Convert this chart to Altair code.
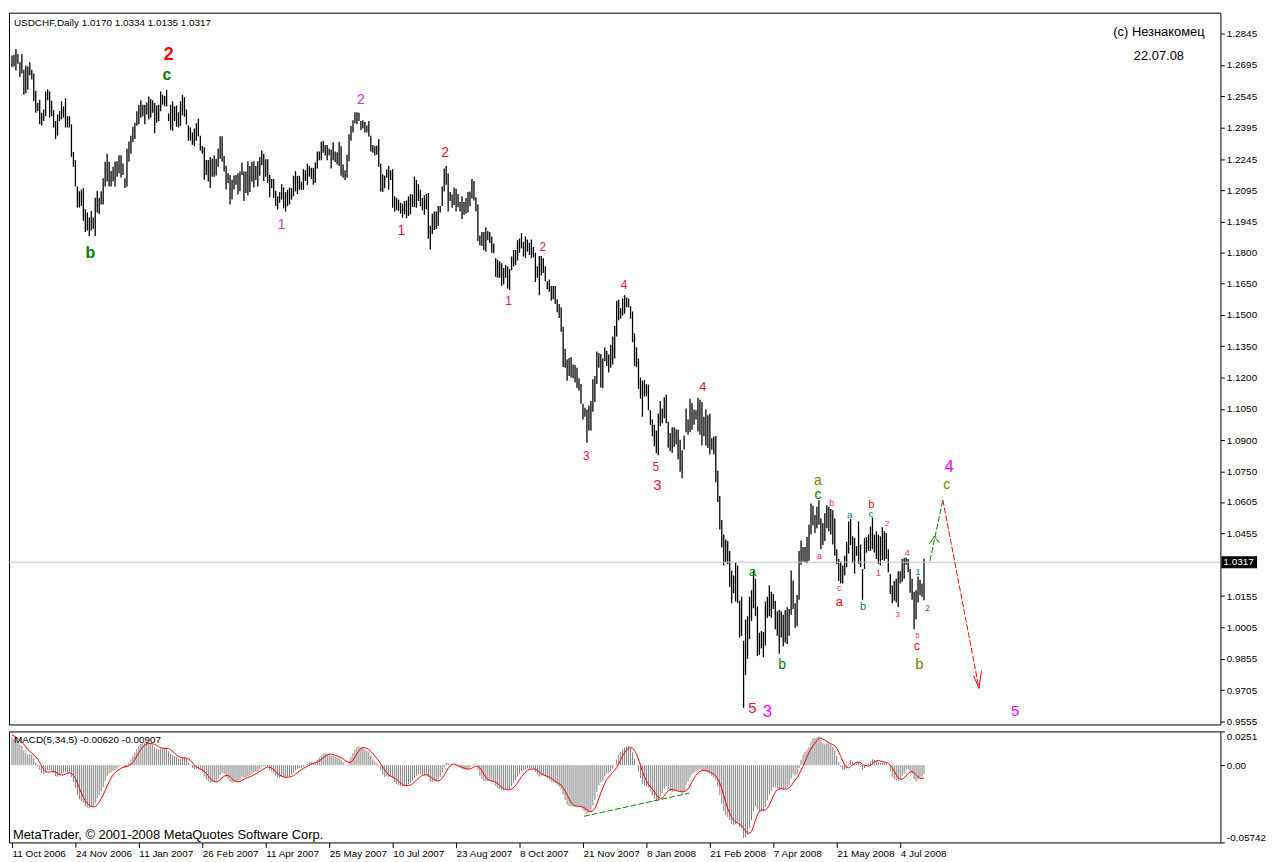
import altair as alt
import pandas as pd

# ---------------- data (prices in pips, 1/10000) ----------------
high_pips = [
12740,12744,12771,12747,12708,12747,12672,12693,12688,12708,
12672,12654,12572,12513,12529,12466,12482,12568,12579,12568,
12524,12479,12427,12458,12474,12521,12497,12536,12450,12450,
12411,12279,12240,12114,12091,12099,12107,12005,11989,11966,
11997,11966,12060,12094,12060,12091,12153,12232,12271,12232,
12188,12208,12232,12235,12263,12263,12224,12153,12294,12329,
12357,12400,12419,12474,12505,12526,12505,12505,12516,12544,
12532,12526,12513,12501,12505,12568,12552,12547,12576,12463,
12505,12521,12497,12501,12469,12521,12552,12541,12482,12407,
12396,12372,12391,12416,12438,12357,12307,12302,12240,12240,
12255,12247,12263,12247,12294,12354,12354,12260,12213,12177,
12169,12146,12166,12169,12177,12185,12229,12185,12185,12234,
12212,12231,12234,12212,12234,12255,12286,12270,12244,12244,
12169,12150,12150,12094,12067,12087,12125,12109,12087,12098,
12109,12106,12165,12187,12165,12165,12137,12197,12192,12223,
12212,12203,12203,12228,12281,12281,12328,12333,12312,12312,
12294,12291,12325,12281,12278,12328,12306,12219,12192,12266,
12364,12403,12431,12469,12469,12466,12427,12431,12422,12406,
12427,12356,12312,12306,12309,12341,12223,12172,12165,12195,
12212,12192,12197,12067,12059,12051,12036,12031,12044,12047,
12067,12078,12075,12161,12145,12125,12098,12059,12072,12078,
12083,11926,11984,11994,11994,12020,12020,12114,12200,12212,
12176,12087,12075,12109,12103,12078,12040,12067,12040,12059,
12087,12090,12150,12140,12062,12028,11880,11896,11896,11919,
11900,11896,11875,11841,11771,11763,11755,11747,11724,11739,
11732,11719,11779,11810,11810,11857,11865,11891,11849,11875,
11860,11844,11860,11825,11797,11732,11782,11782,11771,11732,
11661,11669,11638,11638,11638,11575,11552,11536,11443,11338,
11286,11294,11297,11263,11260,11247,11197,11169,11075,11056,
11047,11067,11088,11192,11208,11325,11317,11313,11291,11344,
11328,11310,11357,11396,11447,11568,11572,11532,11578,11594,
11583,11578,11541,11516,11411,11344,11291,11200,11185,11188,
11169,11166,11044,11000,10974,10947,11028,11088,11052,11106,
11119,10989,10935,10963,10963,10953,10950,10903,10853,10922,
11052,11000,11099,11078,11047,11044,11103,11094,11083,11013,
11047,11020,11027,10910,10918,10921,10754,10634,10519,10449,
10426,10418,10371,10277,10254,10316,10301,10133,10152,9941,
10043,10059,10152,10183,10277,10238,10105,9980,9988,9983,
10129,10152,10207,10176,10165,10133,10082,10090,10082,10066,
10087,10102,10093,10277,10230,10121,10160,10371,10421,10390,
10390,10437,10496,10598,10587,10543,10582,10613,10527,10504,
10551,10590,10582,10571,10566,10527,10379,10332,10321,10301,
10348,10415,10512,10524,10441,10433,10394,10512,10402,10285,
10433,10437,10449,10488,10530,10449,10465,10449,10441,10484,
10465,10457,10379,10262,10207,10227,10238,10274,10274,10332,
10337,10340,10332,10285,10238,10176,10183,10249,10233,10215,
10334]

low_pips = [
12685,12688,12669,12701,12638,12654,12552,12560,12576,12646,
12626,12521,12466,12474,12411,12404,12427,12450,12526,12443,
12450,12396,12341,12357,12427,12435,12443,12396,12396,12396,
12255,12208,12114,12013,12013,12021,11950,11896,11903,11877,
11903,11911,11877,11989,11982,12028,12028,12114,12138,12114,
12114,12138,12114,12161,12177,12157,12169,12107,12114,12232,
12271,12325,12341,12404,12411,12443,12450,12411,12458,12435,
12443,12466,12369,12419,12427,12474,12505,12497,12497,12427,
12385,12380,12427,12400,12396,12404,12454,12447,12411,12333,
12333,12313,12307,12333,12354,12286,12271,12146,12169,12138,
12107,12161,12161,12166,12208,12247,12232,12185,12099,12130,
12028,12052,12099,12122,12075,12091,12169,12044,12083,12072,
12087,12137,12109,12145,12114,12165,12216,12140,12161,12130,
12062,12106,12059,12020,12004,12036,12051,12009,11994,12020,
12028,12051,12067,12090,12078,12098,12098,12098,12140,12122,
12161,12150,12122,12130,12200,12239,12239,12275,12262,12239,
12262,12200,12239,12231,12219,12212,12165,12156,12145,12156,
12234,12333,12372,12416,12411,12427,12384,12391,12372,12372,
12353,12281,12275,12262,12266,12208,12090,12087,12106,12156,
12098,12145,12012,11994,12000,11997,11984,11965,11981,11962,
11973,11981,12015,12015,12012,12044,12020,12000,11978,12004,
11864,11812,11887,11906,11911,11926,11989,12020,12090,12122,
11994,12044,12012,12025,11994,12015,11994,11958,11978,11984,
11989,12020,12056,12047,11994,11853,11833,11829,11810,11802,
11857,11844,11797,11794,11682,11677,11677,11638,11646,11677,
11625,11619,11713,11732,11739,11760,11797,11818,11779,11771,
11802,11786,11771,11775,11657,11677,11594,11688,11700,11661,
11622,11610,11568,11575,11552,11513,11485,11419,11250,11247,
11185,11208,11200,11197,11177,11150,11138,11075,11000,11013,
10888,10947,10947,11036,11083,11169,11247,11153,11150,11278,
11255,11224,11247,11263,11291,11396,11474,11482,11497,11505,
11536,11536,11482,11369,11255,11250,11146,11099,11013,11110,
11110,11044,10974,10919,10872,10838,10828,10969,10981,11005,
10981,10864,10849,10841,10869,10880,10810,10750,10719,10856,
10938,10927,10938,10950,10974,11000,10942,10927,10875,10919,
10875,10863,10832,10855,10832,10699,10605,10473,10387,10301,
10316,10309,10199,10121,10168,10129,10121,9957,9965,9621,
9777,9855,9949,10035,10097,10059,9868,9874,9905,9863,
9918,10051,10059,10051,10093,9996,9965,9879,9957,9915,
9933,9926,9965,10066,10093,10004,10012,10137,10305,10321,
10316,10312,10324,10449,10493,10457,10480,10496,10379,10399,
10418,10480,10465,10449,10402,10348,10309,10227,10215,10215,
10254,10293,10359,10399,10312,10262,10348,10309,10293,10137,
10285,10363,10371,10371,10379,10363,10332,10309,10301,10327,
10324,10332,10269,10165,10121,10133,10124,10102,10215,10223,
10238,10305,10269,10171,10137,9996,10043,10124,10160,10152,
10135]

date_labels = ["11 Oct 2006", "24 Nov 2006", "11 Jan 2007", "26 Feb 2007", "11 Apr 2007",
               "25 May 2007", "10 Jul 2007", "23 Aug 2007", "8 Oct 2007", "21 Nov 2007",
               "8 Jan 2008", "21 Feb 2008", "7 Apr 2008", "21 May 2008", "4 Jul 2008"]
date_label_bars = [0, 32, 64, 96, 128, 160, 192, 224, 256, 288, 320, 352, 384, 416, 448]

price_ticks = [1.2845, 1.2695, 1.2545, 1.2395, 1.2245, 1.2095, 1.1945, 1.1800, 1.1650, 1.1500,
               1.1350, 1.1200, 1.1050, 1.0900, 1.0750, 1.0605, 1.0455, 1.0155, 1.0005, 0.9855,
               0.9705, 0.9555]
last_price = 1.0317

# MACD(5,34,5) state at the first visible bar
macd_at_start = 0.0205      # main line (histogram) height at the first bar
macd_before_start = 0.023   # main-line level of the bars just before the window (red signal start)

# wave labels: bar index, price (pips), text, colour, size, bold
wave_i = [79, 78.2, 39.5, 136, 176, 196.4, 218.5, 250.5, 267.7, 308.7, 289.7, 324.7, 325.5, 348.5,
          373.5, 381, 373.5, 388.5, 406.5, 406.5, 413.5, 407.3, 417.3, 417.3, 422.5, 429.3, 433.5,
          433.3, 441.5, 437, 451.5, 446.8, 457, 461.7, 456.7, 456.5, 457.7, 472.7, 471.5, 506]
wave_p = [12744, 12646, 11797, 11931, 12525, 11903, 12275, 11567, 11825, 11642, 10827, 10774, 10687, 11156,
          9621, 9602, 10269, 9824, 10704, 10638, 10601, 10348, 10192, 10126, 10545, 10104, 10592,
          10546, 10502, 10263, 10362, 10063, 10269, 10098, 9962, 9914, 9832, 10770, 10687, 9607]
wave_t = ["2", "c", "b", "1", "2", "1", "2", "1", "2", "4", "3", "5", "3", "4",
          "5", "3", "a", "b", "a", "c", "b", "a", "c", "a", "a", "b", "b",
          "c", "2", "1", "4", "3", "1", "2", "5", "c", "b", "4", "c", "5"]
wave_c = ["#FF0000", "#008000", "#008000", "#CC33CC", "#CC33CC", "#DC143C", "#DC143C", "#E8103C", "#E8103C",
          "#E8103C", "#E8103C", "#E8103C", "#E8103C", "#C8144C",
          "#E8103C", "#FF00FF", "#008000", "#008000", "#808000", "#008000", "#FF1493", "#FF1493", "#FF1493",
          "#FF0000", "#008080", "#008080", "#FF0000",
          "#008080", "#FF1493", "#FF1493", "#FF1493", "#FF1493", "#008080", "#008080", "#FF1493", "#FF0000",
          "#808000", "#FF00FF", "#808000", "#FF00FF"]
wave_s = [18, 16, 16, 14, 14, 14, 14, 12, 12, 12, 12, 12, 15, 13,
          15, 17, 13, 14, 14, 14, 9, 9, 9, 13, 10, 11, 11,
          10, 8, 9, 9, 8, 9, 9, 8, 12, 15, 17, 14, 15]
wave_b = [True, True, True] + [False] * 37

# hand-drawn trend lines: bar index / price (pips)
seg_i1 = [463, 469.5]
seg_p1 = [10324, 10615]
seg_i2 = [469.5, 487.75]
seg_p2 = [10615, 9714]
seg_col = ["#008000", "#FF0000"]
head_i1 = [465.2, 465.2, 487.75, 487.75]
head_p1 = [10441, 10441, 9714, 9714]
head_i2 = [462.7, 467.7, 485.0, 489.0]
head_p2 = [10405, 10410, 9775, 9799]
head_col = ["#008000", "#008000", "#FF0000", "#FF0000"]
macd_line_i = [288.5, 341.5]
macd_line_v = [-0.0380, -0.0208]

# ---------------- frames ----------------
n = len(high_pips)
bars = pd.DataFrame({
    "i": list(range(n)),
    "high": [h / 10000 for h in high_pips],
    "low": [l / 10000 for l in low_pips],
})

# MACD(5,34,5) indicator of the bar prices (median price), MetaTrader definition
mid = [(h + l) / 20000 for h, l in zip(high_pips, low_pips)]
a5, a34 = 2 / 6, 2 / 35
e5, e34 = mid[0], mid[0] - macd_at_start
macd = []
for k, m in enumerate(mid):
    if k > 0:
        e5 = e5 + a5 * (m - e5)
        e34 = e34 + a34 * (m - e34)
    macd.append(e5 - e34)
padded = [macd_before_start] * 4 + macd
signal = [sum(padded[k:k + 5]) / 5 for k in range(n)]
macd_df = pd.DataFrame({"i": list(range(n)), "macd": macd, "signal": signal, "zero": 0.0})

waves = pd.DataFrame({"i": wave_i, "p": [v / 10000 for v in wave_p], "t": wave_t,
                      "c": wave_c, "s": wave_s, "b": wave_b})
segs = pd.DataFrame({"i1": seg_i1, "p1": [v / 10000 for v in seg_p1],
                     "i2": seg_i2, "p2": [v / 10000 for v in seg_p2], "c": seg_col})
heads = pd.DataFrame({"i1": head_i1, "p1": [v / 10000 for v in head_p1],
                      "i2": head_i2, "p2": [v / 10000 for v in head_p2], "c": head_col})
mline = pd.DataFrame({"i1": [macd_line_i[0]], "v1": [macd_line_v[0]],
                      "i2": [macd_line_i[1]], "v2": [macd_line_v[1]]})
cur = pd.DataFrame({"p": [last_price], "t": ["1.0317"]})
one = pd.DataFrame({"a": [0]})

W = 1222
H1 = 718
H2 = 112
FONT = "Liberation Sans"
AXFONT = "Liberation Sans"

xscale = alt.Scale(domain=[-1.5, 609.5], nice=False, zero=False)
pscale = alt.Scale(domain=[0.9541, 1.2945], nice=False, zero=False)
mscale = alt.Scale(domain=[-0.05742, 0.0251], nice=False, zero=False)

yaxis = alt.Axis(orient="right", values=price_ticks, format=".4f", title=None, grid=False,
                 tickSize=4, tickColor="black", domain=False, labelColor="black",
                 labelFont=AXFONT, labelFontSize=10, labelPadding=2)
xaxis = alt.Axis(values=date_label_bars,
                 labelExpr="[" + ",".join("'%s'" % d for d in date_labels) + "][round(datum.value / 32)]",
                 title=None, grid=False, tickSize=5, tickColor="black", domain=False,
                 labelAlign="left", labelColor="black", labelFont=AXFONT, labelFontSize=10,
                 labelPadding=1, labelOverlap=False, labelFlush=False)
maxis = alt.Axis(orient="right", values=[0.0251, 0, -0.05742], title=None, grid=False,
                 labelExpr="datum.value == 0 ? '0.00' : (datum.value > 0 ? '0.0251' : '-0.05742')",
                 tickSize=4, tickColor="black", domain=False, labelColor="black", labelFlush=True,
                 labelFont=AXFONT, labelFontSize=10, labelPadding=2)


def X(f):
    return alt.X(f, type="quantitative", scale=xscale, axis=None)


def P(f):
    return alt.Y(f, type="quantitative", scale=pscale, axis=yaxis)


def MX(f):
    return alt.X(f, type="quantitative", scale=xscale, axis=xaxis)


def MY(f):
    return alt.Y(f, type="quantitative", scale=mscale, axis=maxis)


price_bars = alt.Chart(bars).mark_rule(color="black", strokeWidth=1.3).encode(
    x=X("i"), y=P("low"), y2="high:Q")

cur_line = alt.Chart(cur).mark_rule(color="#C0C0C0", strokeWidth=1).encode(
    y=P("p"), x=alt.value(0), x2=alt.value(W))
cur_box = alt.Chart(cur).transform_calculate(
    top="datum.p + 0.0029", bot="datum.p - 0.0029").mark_rect(color="black").encode(
    y=P("top"), y2="bot:Q", x=alt.value(W + 1), x2=alt.value(W + 37))
cur_txt = alt.Chart(cur).mark_text(color="white", align="left", baseline="middle",
                                   font=AXFONT, fontSize=10).encode(
    y=P("p"), x=alt.value(W + 3), text="t:N")


def wave_layer(bold):
    return alt.Chart(waves).transform_filter(
        "datum.b" if bold else "!datum.b").mark_text(
        align="center", baseline="middle", font=FONT,
        fontWeight="bold" if bold else "normal").encode(
        x=X("i"), y=P("p"), text="t:N",
        color=alt.Color("c:N", scale=None), size=alt.Size("s:Q", scale=None))


seg_layer = alt.Chart(segs).mark_rule(strokeWidth=1, strokeDash=[6, 2]).encode(
    x=X("i1"), y=P("p1"), x2="i2:Q", y2="p2:Q", color=alt.Color("c:N", scale=None))
head_layer = alt.Chart(heads).mark_rule(strokeWidth=1).encode(
    x=X("i1"), y=P("p1"), x2="i2:Q", y2="p2:Q", color=alt.Color("c:N", scale=None))

header = alt.Chart(one).mark_text(align="left", baseline="middle", font=AXFONT, fontSize=10,
                                  color="black").encode(
    x=alt.value(5), y=alt.value(10), text=alt.value("USDCHF,Daily  1.0170 1.0334 1.0135 1.0317"))
author = alt.Chart(one).mark_text(align="center", baseline="middle", font=FONT, fontSize=13,
                                  color="black").encode(
    x=alt.value(1160), y=alt.value(20), text=alt.value("(c) Незнакомец"))
date_txt = alt.Chart(one).mark_text(align="center", baseline="middle", font=FONT, fontSize=13,
                                    color="black").encode(
    x=alt.value(1160), y=alt.value(44), text=alt.value("22.07.08"))

main = alt.layer(price_bars, cur_line, seg_layer, head_layer, wave_layer(True),
                 wave_layer(False), cur_box, cur_txt, header, author, date_txt).properties(width=W, height=H1)

# ---------------- MACD panel ----------------
hist = alt.Chart(macd_df).mark_rule(color="#808080", strokeWidth=1).encode(
    x=MX("i"), y=MY("zero"), y2="macd:Q")
sig = alt.Chart(macd_df).mark_line(color="#FF0000", strokeWidth=1).encode(
    x=MX("i"), y=MY("signal"))
mline_layer = alt.Chart(mline).mark_rule(color="#008000", strokeWidth=1, strokeDash=[6, 2]).encode(
    x=MX("i1"), y=MY("v1"), x2="i2:Q", y2="v2:Q")
macd_title = alt.Chart(one).mark_text(align="left", baseline="middle", font=AXFONT, fontSize=10,
                                      color="black").encode(
    x=alt.value(5), y=alt.value(9), text=alt.value("MACD(5,34,5) -0.00620 -0.00907"))
mt_txt = alt.Chart(one).mark_text(align="left", baseline="middle", font=FONT, fontSize=13,
                                  color="black").encode(
    x=alt.value(4), y=alt.value(H2 - 7),
    text=alt.value("MetaTrader, \u00a9 2001-2008 MetaQuotes Software Corp."))

macd_panel = alt.layer(hist, sig, mline_layer, macd_title, mt_txt).properties(width=W, height=H2)

chart = alt.vconcat(main, macd_panel, spacing=3).properties(
    padding={"left": 0, "top": 0, "right": 0, "bottom": 0},
    background="white",
).configure_view(stroke="black", strokeWidth=1).configure_concat(spacing=3)

chart.save("out.html", embed_options={"renderer": "svg", "actions": False})
